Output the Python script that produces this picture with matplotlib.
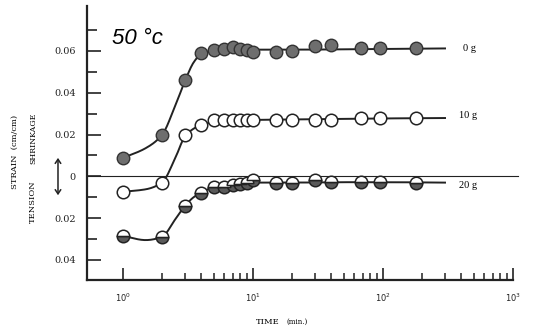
import numpy as np
import matplotlib
matplotlib.use("Agg")
import matplotlib.pyplot as plt
from matplotlib.ticker import FixedLocator, FuncFormatter, NullFormatter

# --- measured points (time in min, strain in cm/cm; tension < 0) ---
time_min = [1, 2, 3, 4, 5, 6, 7, 8, 9, 10, 15, 20, 30, 40, 68, 95, 180]
strain_0g = [0.0088, 0.0198, 0.0461, 0.0590, 0.0605, 0.0610, 0.0620, 0.0610,
             0.0605, 0.0595, 0.0595, 0.0600, 0.0624, 0.0629, 0.0614, 0.0614, 0.0614]
strain_10g = [-0.0074, -0.0030, 0.0198, 0.0246, 0.0270, 0.0270, 0.0270, 0.0270,
              0.0270, 0.0270, 0.0270, 0.0270, 0.0270, 0.0270, 0.0280, 0.0280, 0.0280]
strain_20g = [-0.0285, -0.0290, -0.0142, -0.0079, -0.0051, -0.0051, -0.0041, -0.0036,
              -0.0032, -0.0017, -0.0032, -0.0032, -0.0017, -0.0027, -0.0027, -0.0027, -0.0032]

# --- hand-drawn fitted curves ---
fit_t = [1, 1.5, 2, 2.5, 3, 3.5, 4, 5, 7, 10, 20, 50, 100, 300]
fit_0g = [0.0088, 0.0135, 0.0198, 0.0330, 0.0455, 0.0545, 0.0585, 0.0602, 0.0606,
          0.0606, 0.0606, 0.0608, 0.0610, 0.0612]
fit_10g = [-0.0074, -0.0062, -0.0030, 0.0080, 0.0190, 0.0228, 0.0245, 0.0260, 0.0268,
           0.0270, 0.0272, 0.0275, 0.0277, 0.0279]
fit_20g = [-0.0285, -0.0305, -0.0290, -0.0210, -0.0142, -0.0100, -0.0078, -0.0052,
           -0.0038, -0.0030, -0.0030, -0.0028, -0.0028, -0.0030]

series_labels = ["0 g", "10 g", "20 g"]
label_pos = [(415, 0.0614), (385, 0.0289), (385, -0.0046)]


def smooth(xk, yk, n=300):
    # monotone cubic (pchip) in log-time, just to draw the curve smoothly
    x = np.log10(np.asarray(xk, float))
    y = np.asarray(yk, float)
    h = np.diff(x)
    d = np.diff(y) / h
    m = np.zeros_like(y)
    m[0], m[-1] = d[0], d[-1]
    for k in range(1, len(x) - 1):
        if d[k - 1] * d[k] > 0:
            w1 = 2 * h[k] + h[k - 1]
            w2 = h[k] + 2 * h[k - 1]
            m[k] = (w1 + w2) / (w1 / d[k - 1] + w2 / d[k])
    xn = np.linspace(x[0], x[-1], n)
    i = np.clip(np.searchsorted(x, xn) - 1, 0, len(h) - 1)
    t = (xn - x[i]) / h[i]
    yn = ((2 * t**3 - 3 * t**2 + 1) * y[i] + (t**3 - 2 * t**2 + t) * h[i] * m[i]
          + (-2 * t**3 + 3 * t**2) * y[i + 1] + (t**3 - t**2) * h[i] * m[i + 1])
    return 10**xn, yn


fig = plt.figure(figsize=(5.35, 3.3), dpi=100)
ax = fig.add_axes([0.1626, 0.1515, 0.7963, 0.8303])

ax.set_xscale("log")
ax.set_xlim(0.53, 1000)
ax.set_ylim(-0.0496, 0.0815)

ink = "#222222"
for fit in (fit_0g, fit_10g, fit_20g):
    xs, ys = smooth(fit_t, fit)
    ax.plot(xs, ys, color=ink, lw=1.4, zorder=2)

# zero line runs a little past the end of the axis
ax.plot([0.53, 1100], [0, 0], color=ink, lw=0.8, clip_on=False, zorder=1)

ax.plot(time_min, strain_0g, ls="none", marker="o", ms=9, mfc="#6e6e6e",
        mec="#333333", mew=1.0, zorder=3)
ax.plot(time_min, strain_10g, ls="none", marker="o", ms=9, mfc="white",
        mec="#222222", mew=1.1, zorder=3)
ax.plot(time_min, strain_20g, ls="none", marker="o", ms=9, fillstyle="bottom",
        mfc="#5a5a5a", mfcalt="white", mec="#222222", mew=1.1, zorder=3)

for lab, (lx, ly) in zip(series_labels, label_pos):
    ax.text(lx, ly, lab, fontsize=7.5, family="Liberation Serif", va="center", ha="left")

ax.text(0.059, 0.88, "50 °c", transform=ax.transAxes, fontsize=16,
        family="Liberation Sans", style="italic", va="center", ha="left")

# spines and ticks
for s in ("top", "right"):
    ax.spines[s].set_visible(False)
for s in ("left", "bottom"):
    ax.spines[s].set_linewidth(1.6)
    ax.spines[s].set_color(ink)

ax.xaxis.set_major_locator(FixedLocator([1, 10, 100, 1000]))
ax.xaxis.set_minor_locator(FixedLocator([k * 10**e for e in range(3) for k in range(2, 10)]))
ax.xaxis.set_major_formatter(FuncFormatter(lambda v, p: r"$10^{%d}$" % round(np.log10(v))))
ax.xaxis.set_minor_formatter(NullFormatter())
ax.yaxis.set_major_locator(FixedLocator([-0.04, -0.02, 0, 0.02, 0.04, 0.06]))
ax.yaxis.set_minor_locator(FixedLocator([-0.03, -0.01, 0.01, 0.03, 0.05, 0.07]))
ax.yaxis.set_major_formatter(FuncFormatter(lambda v, p: "0" if abs(v) < 1e-9 else "%.2f" % abs(v)))

ax.tick_params(axis="x", which="major", direction="in", length=8.6, width=1.2, pad=8,
               labelsize=6, colors=ink)
ax.tick_params(axis="x", which="minor", direction="in", length=5, width=1.1, colors=ink)
ax.tick_params(axis="y", which="major", direction="in", length=10, width=1.2, pad=8,
               labelsize=7, colors=ink)
ax.tick_params(axis="y", which="minor", direction="in", length=7, width=1.2, colors=ink)
for lab in ax.get_xticklabels() + ax.get_yticklabels():
    lab.set_family("DejaVu Serif")

# axis captions
fig.text(0.028, 0.539, "STRAIN  (cm/cm)", rotation=90, fontsize=6, family="DejaVu Serif",
         ha="center", va="center")
fig.text(0.0617, 0.582, "SHRINKAGE", rotation=90, fontsize=5.7, family="DejaVu Serif",
         ha="center", va="center")
fig.text(0.0617, 0.388, "TENSION", rotation=90, fontsize=6, family="DejaVu Serif",
         ha="center", va="center")
fig.text(0.501, 0.024, "TIME", fontsize=6, family="DejaVu Serif", ha="center", va="center")
fig.text(0.555, 0.024, "(min.)", fontsize=5, family="DejaVu Serif", ha="center", va="center")
fig.add_artist(matplotlib.patches.FancyArrowPatch((0.1084, 0.400), (0.1084, 0.530),
               transform=fig.transFigure, arrowstyle="<->,head_length=3,head_width=2",
               color=ink, lw=1.1))

fig.savefig("out.png", dpi=100)
